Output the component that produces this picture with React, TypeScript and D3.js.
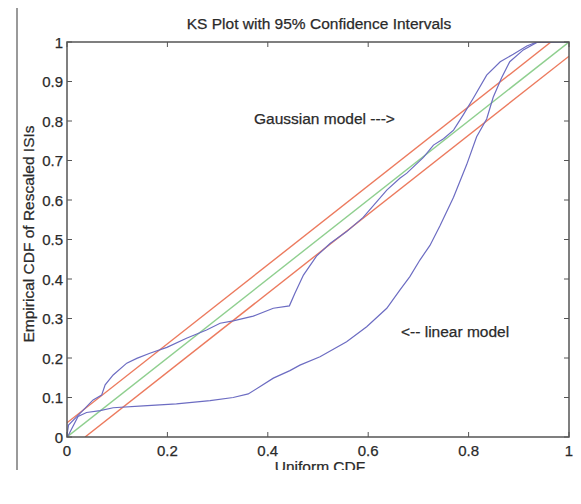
import React from "react";
import * as d3 from "d3";

const xTicks = [0, 0.2, 0.4, 0.6, 0.8, 1];
const yTicks = [0, 0.1, 0.2, 0.3, 0.4, 0.5, 0.6, 0.7, 0.8, 0.9, 1];
const xTickLabels = ["0", "0.2", "0.4", "0.6", "0.8", "1"];
const yTickLabels = ["0", "0.1", "0.2", "0.3", "0.4", "0.5", "0.6", "0.7", "0.8", "0.9", "1"];

const diagX = [0, 1];
const diagY = [0, 1];
const ciOffset = 0.036;

const gaussX = [0, 0.003, 0.026, 0.052, 0.069, 0.076, 0.092, 0.119, 0.139, 0.165, 0.199, 0.238, 0.278, 0.305, 0.331, 0.371, 0.411, 0.443, 0.454, 0.471, 0.497, 0.524, 0.557, 0.59, 0.637, 0.663, 0.677, 0.71, 0.73, 0.75, 0.77, 0.789, 0.809, 0.836, 0.863, 0.889, 0.916, 0.936, 1];
const gaussY = [0.005, 0.03, 0.06, 0.094, 0.106, 0.132, 0.157, 0.187, 0.199, 0.212, 0.227, 0.25, 0.271, 0.288, 0.294, 0.306, 0.326, 0.332, 0.364, 0.41, 0.458, 0.49, 0.52, 0.556, 0.625, 0.655, 0.668, 0.708, 0.739, 0.755, 0.777, 0.815, 0.857, 0.916, 0.95, 0.969, 0.99, 1, 1];

const linX = [0, 0.003, 0.013, 0.022, 0.039, 0.066, 0.092, 0.152, 0.218, 0.285, 0.331, 0.361, 0.384, 0.411, 0.444, 0.464, 0.504, 0.557, 0.597, 0.637, 0.663, 0.683, 0.703, 0.723, 0.743, 0.77, 0.796, 0.816, 0.836, 0.849, 0.866, 0.882, 0.909, 0.936, 1];
const linY = [0, 0.005, 0.03, 0.052, 0.062, 0.067, 0.074, 0.079, 0.084, 0.092, 0.1, 0.109, 0.127, 0.149, 0.168, 0.182, 0.203, 0.241, 0.279, 0.326, 0.372, 0.406, 0.448, 0.485, 0.535, 0.607, 0.689, 0.76, 0.805, 0.86, 0.91, 0.95, 0.98, 0.999, 1];

const W = 581;
const H = 504;
const left = 67, right = 569, top = 42, bottom = 437;

export default function App() {
  const x = d3.scaleLinear().domain([0, 1]).range([left, right]);
  const y = d3.scaleLinear().domain([0, 1]).range([bottom, top]);
  const line = d3.line<[number, number]>().x((d) => x(d[0])).y((d) => y(d[1]));
  const zip = (a: number[], b: number[]) => a.map((v, i) => [v, b[i]] as [number, number]);

  const font = "'Liberation Sans', Arial, Helvetica, sans-serif";
  const textColor = "#2a2a2a";
  const axisColor = "#555";
  const tickLen = 5;
  const fs = 15.5;
  const textStroke = { stroke: "#2a2a2a", strokeWidth: 0.25 };

  return (
    <svg width={W} height={H} style={{ position: "absolute", left: 0, top: 0, background: "#fff" }} fontFamily={font}>
      <defs>
        <clipPath id="plotclip">
          <rect x={left} y={top} width={right - left} height={bottom - top} />
        </clipPath>
        <clipPath id="pageclip">
          <rect x={0} y={0} width={W} height={470} />
        </clipPath>
      </defs>
      <rect x={0} y={0} width={W} height={H} fill="#fff" />
      <line x1={17} x2={17} y1={8} y2={470} stroke="#9a9a9a" strokeWidth={2} />

      <text x={319} y={29} textAnchor="middle" fontSize={fs} fill={textColor} {...textStroke}>
        KS Plot with 95% Confidence Intervals
      </text>

      <g clipPath="url(#plotclip)" fill="none" strokeWidth={1.4}>
        <path d={line([[ciOffset, 0], [1, 1 - ciOffset]]) || ""} stroke="#ec7a5e" />
        <path d={line([[0, ciOffset], [1 - ciOffset, 1]]) || ""} stroke="#ec7a5e" />
        <path d={line(zip(diagX, diagY)) || ""} stroke="#8fcf8f" />
        <path d={line(zip(linX, linY)) || ""} stroke="#6c6cc2" strokeWidth={1.2} />
        <path d={line(zip(gaussX, gaussY)) || ""} stroke="#6c6cc2" strokeWidth={1.2} />
      </g>

      <g stroke={axisColor} strokeWidth={1}>
        {xTicks.map((t) => (
          <g key={"xt" + t}>
            <line x1={x(t)} x2={x(t)} y1={bottom} y2={bottom - tickLen} />
            <line x1={x(t)} x2={x(t)} y1={top} y2={top + tickLen} />
          </g>
        ))}
        {yTicks.map((t) => (
          <g key={"yt" + t}>
            <line x1={left} x2={left + tickLen} y1={y(t)} y2={y(t)} />
            <line x1={right} x2={right - tickLen} y1={y(t)} y2={y(t)} />
          </g>
        ))}
      </g>
      <rect x={left} y={top} width={right - left} height={bottom - top} fill="none" stroke={axisColor} strokeWidth={1.5} />

      <g fontSize={15} fill={textColor} {...textStroke}>
        {xTicks.map((t, i) => (
          <text key={"xl" + t} x={x(t)} y={bottom + 19} textAnchor="middle">
            {xTickLabels[i]}
          </text>
        ))}
        {yTicks.map((t, i) => (
          <text key={"yl" + t} x={left - 4} y={y(t) + 5.5} textAnchor="end">
            {yTickLabels[i]}
          </text>
        ))}
      </g>

      <g clipPath="url(#pageclip)">
        <text x={320} y={472} textAnchor="middle" fontSize={fs} fill={textColor} {...textStroke}>
          Uniform CDF
        </text>
      </g>
      <text transform={`translate(34, 234) rotate(-90)`} textAnchor="middle" fontSize={fs} fill={textColor} {...textStroke}>
        Empirical CDF of Rescaled ISIs
      </text>

      <text x={254} y={124} fontSize={fs} fill={textColor} {...textStroke}>
        Gaussian model ---&gt;
      </text>
      <text x={401} y={337} fontSize={fs} fill={textColor} {...textStroke}>
        &lt;-- linear model
      </text>
    </svg>
  );
}
